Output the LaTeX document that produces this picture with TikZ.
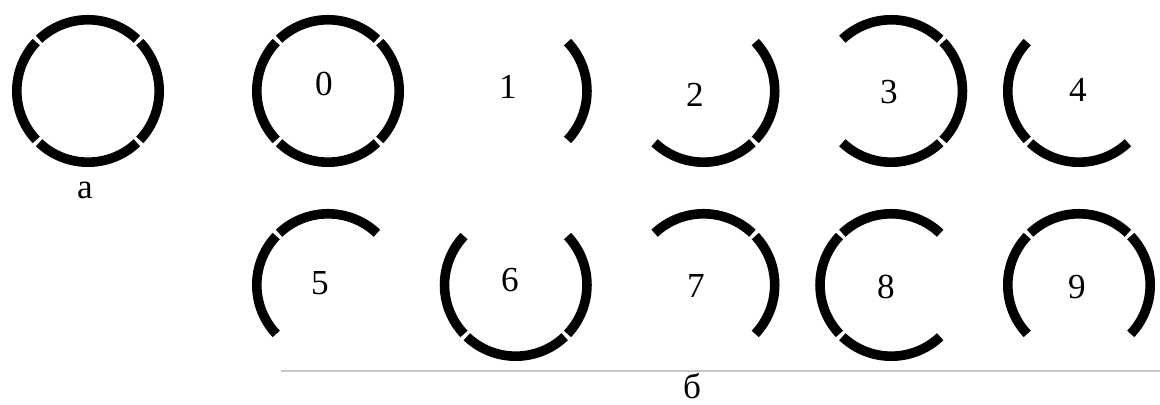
\documentclass[tikz,border=0pt]{standalone}
\usepackage{fontspec}
\setmainfont{Liberation Serif}
\usepackage{tikz}
\usetikzlibrary{positioning}

% one quarter of a display ring, starting at angle #2
\newcommand{\ringseg}[2]{\draw[segline] (#1) ++(#2+1.6:1.78cm) arc[start angle=#2+1.6, end angle=#2+88.4, radius=1.78cm];}

\begin{document}
\begin{tikzpicture}[
    x=0.025cm, y=0.025cm,
    font=\fontsize{25}{30}\selectfont,
    segline/.style={line width=0.24cm, black},
    sepline/.style={line width=0.05cm, black!22},
    lbl/.style={inner sep=0pt, anchor=center}
]
    \useasboundingbox (0,0) rectangle (1160,405);

    % ring centres
    \coordinate (ca) at (88,314);
    \coordinate (c0) at (328,314);
    \coordinate (c1) at (515.75,314);
    \coordinate (c2) at (703.5,314);
    \coordinate (c3) at (891.25,314);
    \coordinate (c4) at (1079,314);
    \coordinate (c5) at (328,120);
    \coordinate (c6) at (515.75,120);
    \coordinate (c7) at (703.5,120);
    \coordinate (c8) at (891.25,120);
    \coordinate (c9) at (1079,120);

    % full ring (a)
    \foreach \s in {45,135,225,-45} {\ringseg{ca}{\s}}

    % digits: top=45, left=135, bottom=225, right=-45
    \foreach \s in {45,135,225,-45} {\ringseg{c0}{\s}}
    \foreach \s in {-45} {\ringseg{c1}{\s}}
    \foreach \s in {-45,225} {\ringseg{c2}{\s}}
    \foreach \s in {45,-45,225} {\ringseg{c3}{\s}}
    \foreach \s in {135,225} {\ringseg{c4}{\s}}
    \foreach \s in {135,45} {\ringseg{c5}{\s}}
    \foreach \s in {135,225,-45} {\ringseg{c6}{\s}}
    \foreach \s in {45,-45} {\ringseg{c7}{\s}}
    \foreach \s in {135,45,225} {\ringseg{c8}{\s}}
    \foreach \s in {135,45,-45} {\ringseg{c9}{\s}}

    \node[lbl] (l0) at (324,321) {0};
    \node[lbl] (l1) at (508,318) {1};
    \node[lbl] (l2) at (695,310) {2};
    \node[lbl] (l3) at (889,313) {3};
    \node[lbl] (l4) at (1078,315) {4};
    \node[lbl] (l5) at (320,122) {5};
    \node[lbl] (l6) at (510,125) {6};
    \node[lbl] (l7) at (696,119) {7};
    \node[lbl] (l8) at (886,118) {8};
    \node[lbl] (l9) at (1077,118) {9};

    \node[lbl] (capa) at (85,215) {а};
    \draw[sepline] (281,34) -- (1160,34);
    \node[lbl] (capb) at (692,19) {б};

\end{tikzpicture}
\end{document}
